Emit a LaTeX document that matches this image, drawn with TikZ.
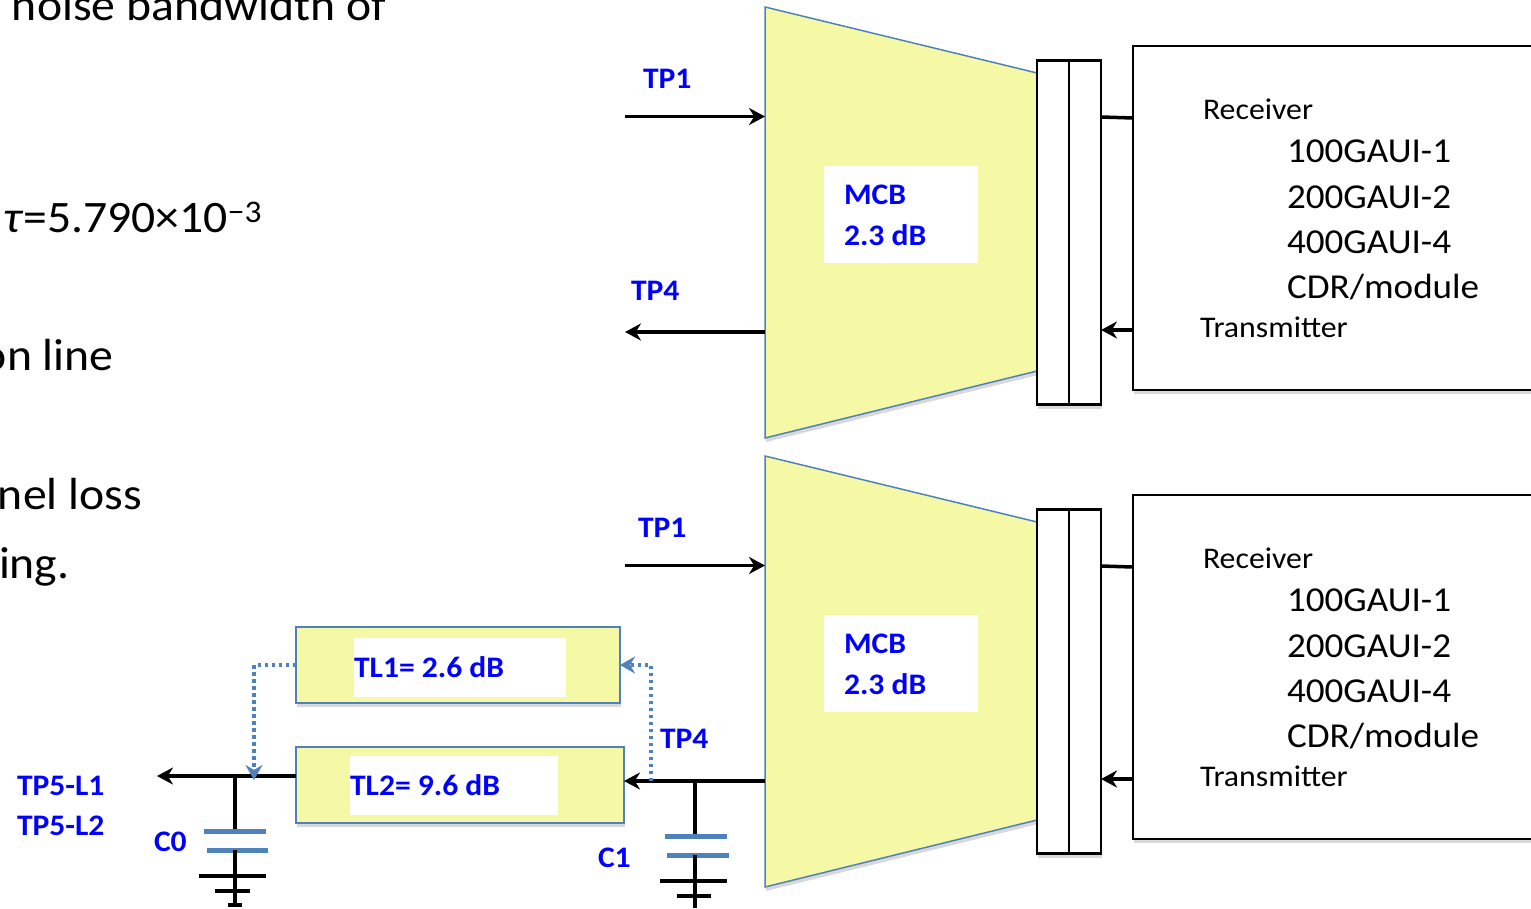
\documentclass[tikz,border=0pt]{standalone}
\usepackage{fontspec}
\setmainfont[FakeStretch=1.06]{Carlito}
\usepackage{tikz}
\usetikzlibrary{arrows.meta,shadows}
\definecolor{padyellow}{HTML}{F5F9A6}
\definecolor{edgeblue}{HTML}{4F81BD}
\tikzset{
    softshadow/.style={drop shadow={shadow xshift=1pt, shadow yshift=-4pt, opacity=0.3, fill=gray}},
    blocklabel/.style={anchor=base west, text=blue, font=\fontsize{29.8}{30}\selectfont\bfseries},
    bodytext/.style={anchor=base west, font=\fontsize{45}{45}\selectfont},
    smalltext/.style={anchor=base west, font=\fontsize{30}{30}\selectfont},
    rxtext/.style={anchor=base west, font=\fontsize{35}{35}\selectfont},
    portbox/.style={draw=black, line width=2.5pt, fill=white, minimum width=32pt, minimum height=344pt, softshadow},
    hostbox/.style={draw=black, line width=2.5pt, fill=white, minimum width=420pt, minimum height=344pt, anchor=north west, softshadow},
    whitepad/.style={fill=white, anchor=north west},
    linebox/.style={draw=edgeblue, line width=2.5pt, fill=padyellow, anchor=north west, softshadow},
    wire/.style={line width=3.5pt},
    plate/.style={line width=5pt, edgeblue},
    tapline/.style={edgeblue, line width=3.5pt, dash pattern=on 3.5pt off 3.5pt, -{Stealth[length=15pt,width=17pt]}}
}

\begin{document}
\begin{tikzpicture}[x=1pt, y=-1pt, >={Stealth[length=16pt,width=17pt]}, every node/.style={inner sep=0pt, outer sep=0pt}]
    \useasboundingbox (0,0) rectangle (1531,908);
    \clip (0,0) rectangle (1531,908);

    \node[bodytext] (noise) at (12,20) {noise bandwidth of};
    \node[bodytext] (tau) at (3,232) {\textit{τ}=5.790×10\textsuperscript{−3}};
    \node[bodytext] (online) at (-18,370) {on line};
    \node[bodytext] (nelloss) at (-2,509) {nel loss};
    \node[bodytext] (ing) at (-1,578) {ing.};

    \foreach \blk/\dy/\tpx in {a/0/643, b/449/638} {
        \begin{scope}[shift={(0,\dy)}]
            \draw[edgeblue, line width=1.5pt, fill=padyellow, softshadow] (765,7) -- (1037,73) -- (1037,371) -- (765,438) -- cycle;
            \node[whitepad, minimum width=154pt, minimum height=97pt] (pad\blk) at (824,166) {};
            \node[blocklabel] (mcb\blk) at (844,204) {MCB};
            \node[blocklabel] (loss\blk) at (844,245) {2.3 dB};

            \node[portbox] (porta\blk) at (1053,232.5) {};
            \node[portbox] (portb\blk) at (1085,232.5) {};
            \node[hostbox] (host\blk) at (1133,46) {};

            \node[smalltext] (rx\blk) at (1203,119) {Receiver};
            \node[rxtext] (lineone\blk) at (1287,162) {100GAUI-1};
            \node[rxtext] (linetwo\blk) at (1287,208) {200GAUI-2};
            \node[rxtext] (linefour\blk) at (1287,253) {400GAUI-4};
            \node[rxtext] (cdr\blk) at (1287,298) {CDR/module};
            \node[smalltext] (tx\blk) at (1200,337) {Transmitter};

            \coordinate (rxout\blk) at (1133,118);
            \coordinate (rxin\blk) at (1101,117);
            \coordinate (txout\blk) at (1133,330);
            \coordinate (txin\blk) at (1101,330);
            \draw[wire] (rxin\blk) -- (rxout\blk);
            \draw[wire, ->] (txout\blk) -- (txin\blk);

            \node[blocklabel] (tpone\blk) at (\tpx,88) {TP1};
            \coordinate (tpstart\blk) at (625,116.5);
            \coordinate (tpend\blk) at (765,116.5);
            \draw[wire, ->] (tpstart\blk) -- (tpend\blk);
        \end{scope}
    }

    \node[blocklabel] (tpfoura) at (631,300) {TP4};
    \coordinate (fromtpa) at (765,332);
    \coordinate (totpa) at (625,332);
    \draw[wire, ->] (fromtpa) -- (totpa);

    \node[linebox, minimum width=324pt, minimum height=76pt] (tlone) at (296,627) {};
    \node[whitepad, minimum width=212pt, minimum height=59pt] (padone) at (354,638) {};
    \node[blocklabel] at (354,677) (tlonetext) {TL1= 2.6 dB};
    \node[linebox, minimum width=328pt, minimum height=76pt] (tltwo) at (296,747) {};
    \node[whitepad, minimum width=208pt, minimum height=59pt] (padtwo) at (350,756) {};
    \node[blocklabel] at (350,795) (tltwotext) {TL2= 9.6 dB};

    \node[blocklabel] (tpfourb) at (660,748) {TP4};
    \node[blocklabel] (tpfive) at (17,795) {TP5-L1};
    \node[blocklabel] (tpsix) at (17,835) {TP5-L2};
    \node[blocklabel] (czero) at (154,851) {C0};
    \node[blocklabel] (cone) at (598,867) {C1};

    \coordinate (mcbout) at (765,781);
    \coordinate (tapright) at (651,781);
    \coordinate (tapup) at (651,665);
    \coordinate (tapleft) at (254,665);
    \coordinate (tapdown) at (254,780);
    \coordinate (tlend) at (157,776);
    \coordinate (jzero) at (235,776);
    \coordinate (jone) at (695,781);
    \coordinate (tltwoin) at (tltwo.east |- mcbout);
    \coordinate (tltwoout) at (tltwo.west |- jzero);

    \draw[wire, ->] (mcbout) -- (tltwoin);
    \draw[wire, ->] (tltwoout) -- (tlend);

    \draw[wire] (jzero) -- (235,831);
    \draw[plate] (204,831) -- (266,831);
    \draw[plate] (207,850) -- (268,850);
    \draw[wire] (235,850) -- (235,905);
    \draw[wire] (199,876) -- (266,876);
    \draw[wire] (215,891) -- (250,891);
    \draw[wire] (228,905) -- (242,905);

    \draw[wire] (jone) -- (695,836);
    \draw[plate] (665,836) -- (727,836);
    \draw[plate] (667,855) -- (729,855);
    \draw[wire] (695,855) -- (695,908);
    \draw[wire] (660,881) -- (727,881);
    \draw[wire] (677,896) -- (711,896);

    \draw[tapline] (tapright) -- (tapup) -- (tlone.east);
    \draw[tapline] (tlone.west) -- (tapleft) -- (tapdown);
\end{tikzpicture}
\end{document}
